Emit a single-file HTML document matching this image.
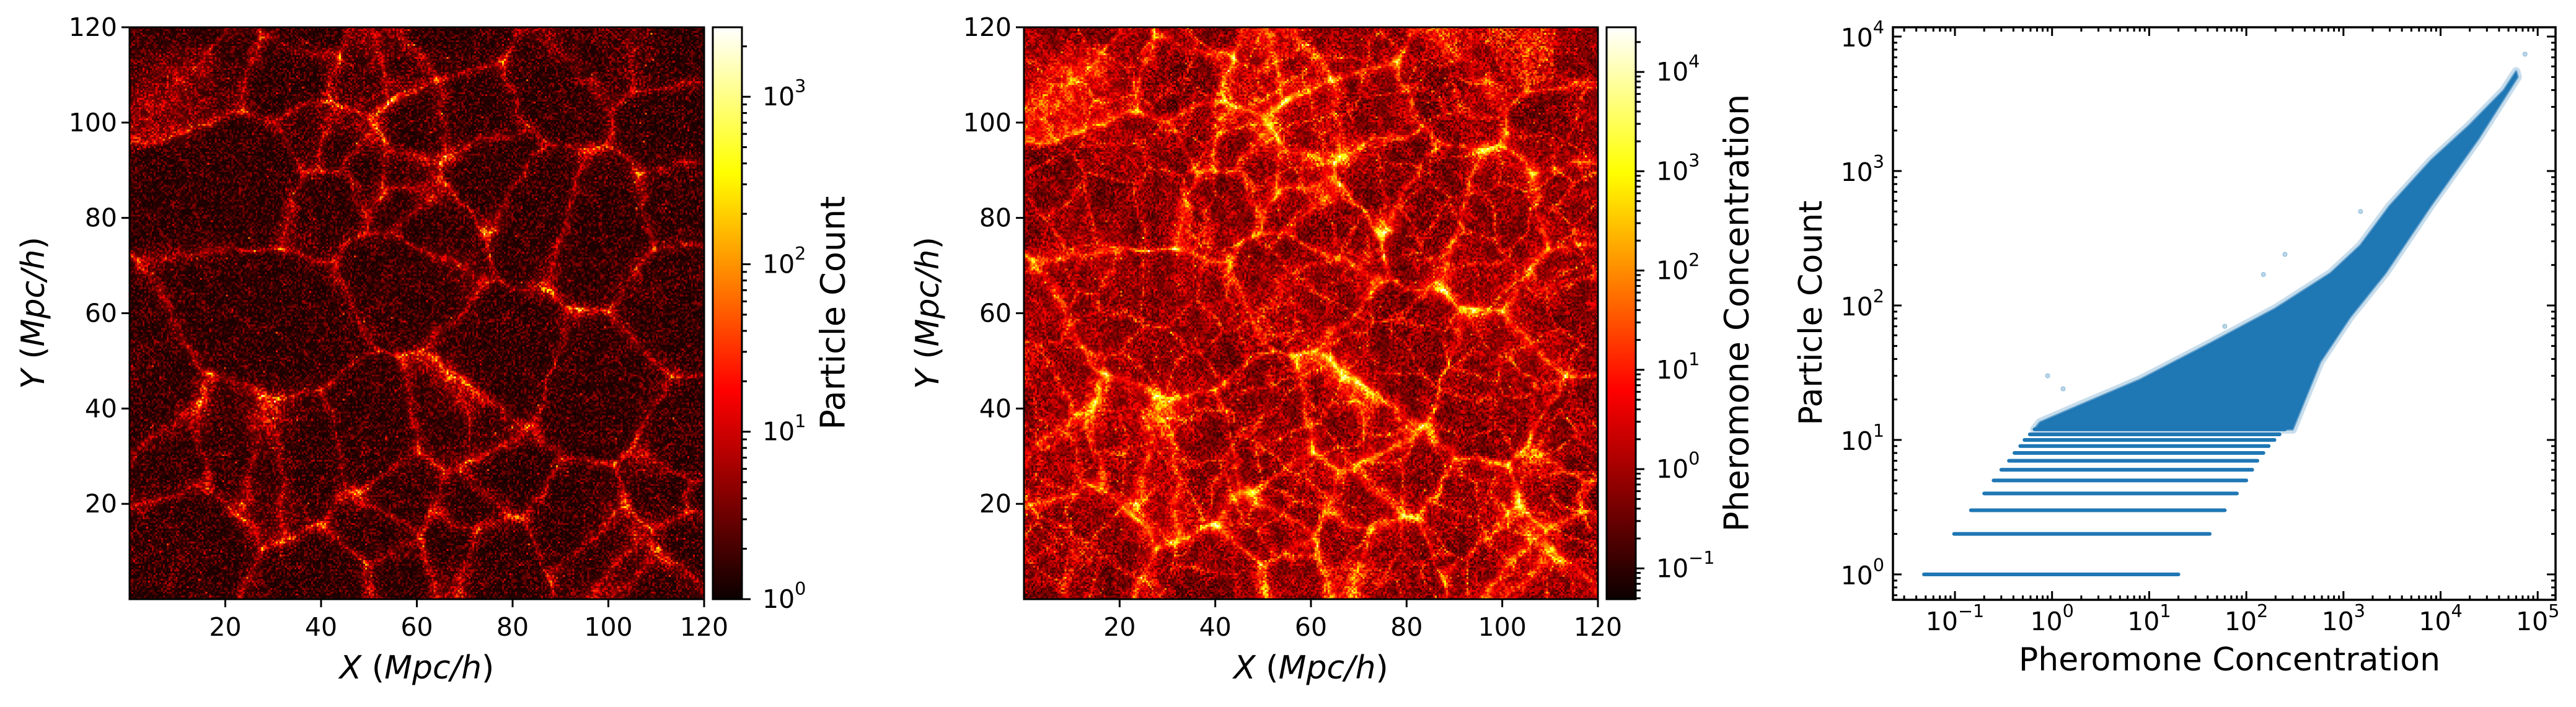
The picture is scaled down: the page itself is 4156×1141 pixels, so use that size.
<!DOCTYPE html>
<html><head><meta charset="utf-8">
<style>
html,body{margin:0;padding:0;background:#fff;}
#root{position:relative;width:4156px;height:1141px;overflow:hidden;background:#fff;font-family:"DejaVu Sans","Liberation Sans",sans-serif;}
canvas.hm{position:absolute;image-rendering:pixelated;}
.cbar{position:absolute;background:linear-gradient(to top,#0b0000 0%,#ff0000 36.5%,#ffff00 74.6%,#ffffff 100%);}
svg{position:absolute;left:0;top:0;}
</style></head>
<body>
<div id="root">
<canvas id="hm1" class="hm" width="310" height="308" style="left:209px;top:44px;width:927px;height:923px"></canvas>
<canvas id="hm2" class="hm" width="310" height="308" style="left:1652px;top:44px;width:926px;height:923px"></canvas>
<div class="cbar" style="left:1150px;top:44px;width:47px;height:923px"></div>
<div class="cbar" style="left:2592px;top:44px;width:47px;height:923px"></div>
<svg id="svg" width="4156" height="1141"></svg>
</div>
<script>
// ---- scatter data (panel 3) ----
const bandCounts=[1,2,3,4,5,6,7,8,9,10,11,12];
const bandMin=[0.048,0.098,0.146,0.2,0.25,0.30,0.36,0.41,0.47,0.52,0.59,0.66];
const bandMax=[20,42,60,80,100,115,130,150,170,195,220,250];
const cloudUpperX=[0.66,0.75,1.9,8,42,200,740,1500,3000,8000,20000,45000,60000];
const cloudUpperY=[12,13.5,18,28,52,95,174,280,550,1200,2200,4000,5500];
const cloudLowerX=[300,575,1170,2700,7900,24500,62000];
const cloudLowerY=[12,38,82,174,550,1740,5000];
const outlierX=[74000,0.9,1.3,20,35,60,150,250,1500];
const outlierY=[7400,30,24,38,45,70,170,240,500];
// colorbar ticks
const cb1Ticks=[0,1,2,3];
const cb2Ticks=[-1,0,1,2,3,4];
const xyTicks=[20,40,60,80,100,120];
const p3XTicks=[-1,0,1,2,3,4,5];
const p3YTicks=[0,1,2,3,4];

const NS="http://www.w3.org/2000/svg";
const svg=document.getElementById('svg');
function el(tag,attrs,parent){const e=document.createElementNS(NS,tag);for(const k in attrs)e.setAttribute(k,attrs[k]);(parent||svg).appendChild(e);return e;}
function line(x1,y1,x2,y2,w){return el('line',{x1,y1,x2,y2,stroke:'#000','stroke-width':w||3});}
function txt(x,y,s,size,anchor,extra){const t=el('text',Object.assign({x,y,'font-size':size,'text-anchor':anchor||'middle','dominant-baseline':'central',fill:'#000'},extra||{}));t.textContent=s;return t;}
function pow10(x,y,e,size,anchor){const t=el('text',{x,y,'font-size':size,'text-anchor':anchor,'dominant-baseline':'central',fill:'#000'});
 const a=document.createElementNS(NS,'tspan');a.textContent='10';t.appendChild(a);
 const b=document.createElementNS(NS,'tspan');b.setAttribute('font-size',size*0.7);b.setAttribute('dy',-size*0.42);b.textContent=(e<0?'\u2212'+(-e):''+e);t.appendChild(b);return t;}

// ---- panels 1 & 2 axes ----
function heatAxes(L,R,T,B,name){
 const sx=v=>L+(R-L)*v/120, sy=v=>B-(B-T)*v/120;
 const g=el('g',{});
 el('rect',{x:L,y:T,width:R-L,height:B-T,fill:'none',stroke:'#000','stroke-width':3},g);
 xyTicks.forEach(v=>{line(sx(v),B,sx(v),B+13,3);txt(sx(v),B+45,String(v),41);
  line(L-13,sy(v),L,sy(v),3);txt(L-20,sy(v),String(v),41,'end');});
 const xl=el('text',{x:(L+R)/2,y:1078,'font-size':52,'text-anchor':'middle','dominant-baseline':'central'});
 xl.innerHTML='<tspan font-style="italic">X</tspan> (<tspan font-style="italic">Mpc/h</tspan>)';
 
 const yl=el('text',{x:0,y:0,'font-size':52,'text-anchor':'middle','dominant-baseline':'central',transform:`translate(${L-155},505) rotate(-90)`});
 yl.innerHTML='<tspan font-style="italic">Y</tspan> (<tspan font-style="italic">Mpc/h</tspan>)';
 
}
heatAxes(209,1136,44,967,'panel1');
heatAxes(1652,2578,44,967,'panel2');

function colorbar(L,R,T,B,lo,hi,ticks,label,labelX,name){
 const sy=v=>B-(B-T)*(Math.log10(v)-lo)/(hi-lo);
 el('rect',{x:L,y:T,width:R-L,height:B-T,fill:'none',stroke:'#000','stroke-width':3});
 for(let d=Math.floor(lo);d<=Math.ceil(hi);d++){for(let m=1;m<10;m++){const v=m*Math.pow(10,d);const lv=Math.log10(v);if(lv<lo-1e-9||lv>hi)continue;
  const y=sy(v);line(R,y,R+(m===1?14:8),y,3);}}
 ticks.forEach(e=>{pow10(R+33,sy(Math.pow(10,e)),e,41,'start');});
 const t=txt(0,0,label,54,'middle',{transform:`translate(${labelX},505) rotate(-90)`});
 
}
colorbar(1150,1197,44,967,0,3.415,cb1Ticks,'Particle Count',1344,'particle-colorbar');
colorbar(2592,2639,44,967,-1.31,4.45,cb2Ticks,'Pheromone Concentration',2802,'pheromone-colorbar');

// ---- panel 3 scatter ----
const P3={L:3054,R:4123,T:44,B:968};
const X0=3154,XD=156.7,Y0=927,YD=217;
const px=v=>X0+(Math.log10(v)+1)*XD;
const py=v=>Y0-Math.log10(v)*YD;
const sg=el('g',{});


let poly=[];
for(let i=0;i<cloudUpperX.length;i++)poly.push(px(cloudUpperX[i])+','+py(cloudUpperY[i]));
for(let i=cloudLowerX.length-1;i>=0;i--)poly.push(px(cloudLowerX[i])+','+py(cloudLowerY[i]));
poly.push(px(bandMax[bandMax.length-1])+','+py(12));
const cf=el('polygon',{points:poly.join(' '),fill:'none',stroke:'#1f77b4','stroke-width':14,'stroke-opacity':0.25,'stroke-linejoin':'round'},sg);


const cl=el('polygon',{points:poly.join(' '),fill:'#1f77b4',stroke:'#1f77b4','stroke-width':4,'stroke-opacity':0.6,'stroke-linejoin':'round'},sg);


bandCounts.forEach((c,i)=>{
 const b=el('line',{x1:px(bandMin[i]),y1:py(c),x2:px(bandMax[i]),y2:py(c),stroke:'#1f77b4','stroke-width':6,'stroke-linecap':'round'},sg);
 
 
});
outlierX.forEach((x,i)=>{
 const o=el('circle',{cx:px(x),cy:py(outlierY[i]),r:3.5,fill:'#1f77b4','fill-opacity':0.3,stroke:'#1f77b4','stroke-opacity':0.4},sg);
 
 
});
// frame & ticks
el('rect',{x:P3.L,y:P3.T,width:P3.R-P3.L,height:P3.B-P3.T,fill:'none',stroke:'#000','stroke-width':3.5});
for(let d=-2;d<=5;d++)for(let m=1;m<10;m++){const v=m*Math.pow(10,d);const x=px(v);if(x<P3.L+2||x>P3.R-2)continue;const L=m===1?14:7;
 line(x,P3.B,x,P3.B-L,3);line(x,P3.T,x,P3.T+L,3);}
for(let d=-1;d<=4;d++)for(let m=1;m<10;m++){const v=m*Math.pow(10,d);const y=py(v);if(y<P3.T+2||y>P3.B-2)continue;const L=m===1?14:7;
 line(P3.L,y,P3.L+L,y,3);line(P3.R,y,P3.R-L,y,3);}
p3XTicks.forEach(e=>pow10(px(Math.pow(10,e)),1003,e,41,'middle'));
p3YTicks.forEach(e=>pow10(3040,py(Math.pow(10,e))+2,e,41,'end'));
const p3x=txt(3597,1065,'Pheromone Concentration',52);

const p3y=txt(0,0,'Particle Count',52,'middle',{transform:'translate(2922,505) rotate(-90)'});


// ---- procedural cosmic-web texture for heatmaps ----
function rng(s){return function(){s|=0;s=s+0x6D2B79F5|0;let t=Math.imul(s^s>>>15,1|s);t=t+Math.imul(t^t>>>7,61|t)^t;return((t^t>>>14)>>>0)/4294967296;}}
function hot(t){t=Math.max(0,Math.min(1,t));const r=Math.min(1,0.0416+t/0.365*(1-0.0416));const g=Math.max(0,Math.min(1,(t-0.365)/0.381));const b=Math.max(0,Math.min(1,(t-0.746)/0.254));return[r*255,g*255,b*255];}
const W=310,H=308;
const R=rng(12345);
const seedsA=[],seedsB=[];
for(let i=0;i<55;i++)seedsA.push([R()*W,R()*H]);
for(let i=0;i<200;i++)seedsB.push([R()*W,R()*H]);
const grid=[];for(let i=0;i<100;i++)grid.push(R());
function vn(x,y,s){const gx=x/s,gy=y/s;const ix=Math.floor(gx),iy=Math.floor(gy);const fx=gx-ix,fy=gy-iy;
 const g=(a,b)=>grid[((a*7+b*13)%100+100)%100];const u=fx*fx*(3-2*fx),v=fy*fy*(3-2*fy);
 return (g(ix,iy)*(1-u)+g(ix+1,iy)*u)*(1-v)+(g(ix,iy+1)*(1-u)+g(ix+1,iy+1)*u)*v;}
function vor(seeds,x,y){let d1=1e9,d2=1e9,d3=1e9;for(const s of seeds){const dx=s[0]-x,dy=s[1]-y;const d=dx*dx+dy*dy;
 if(d<d1){d3=d2;d2=d1;d1=d;}else if(d<d2){d3=d2;d2=d;}else if(d<d3)d3=d;}
 return[Math.sqrt(d1),Math.sqrt(d2),Math.sqrt(d3)];}
const ctx1=document.getElementById('hm1').getContext('2d');
const ctx2=document.getElementById('hm2').getContext('2d');
const im1=ctx1.createImageData(W,H),im2=ctx2.createImageData(W,H);
const R2=rng(999);
for(let y=0;y<H;y++)for(let x=0;x<W;x++){
 const wx=x+6*(vn(x,y,9)-0.5), wy=y+6*(vn(y+50,x,11)-0.5);
 const a=vor(seedsA,wx,wy),b=vor(seedsB,wx,wy);
 const n=vn(x,y,22), n2=vn(x*1.7,y*1.7,6);
 const filA=Math.exp(-(a[1]-a[0])/(1.5+2.5*n));
 const nodeA=Math.exp(-(a[2]-a[0])/3);
 const filB=Math.exp(-(b[1]-b[0])/1.3);
 const sp=R2(),sp2=R2();
 let t1=0.02+0.18*sp*sp*sp+0.24*filA*(0.3+0.9*n2)*(0.6+0.6*sp)+0.10*filB*sp+0.4*nodeA*(0.3+n)*(0.5+sp);
 if(sp2<0.003)t1+=0.3;
 let t2=0.04+0.28*sp*(0.4+0.8*n2)+0.08*n+0.26*filA*(0.5+0.8*n2)+0.2*filB*(0.5+sp)+0.4*nodeA*(0.4+n);
 if(sp2<0.005)t2+=0.25;
 const c1=hot(t1),c2=hot(t2);const k=(y*W+x)*4;
 im1.data[k]=c1[0];im1.data[k+1]=c1[1];im1.data[k+2]=c1[2];im1.data[k+3]=255;
 im2.data[k]=c2[0];im2.data[k+1]=c2[1];im2.data[k+2]=c2[2];im2.data[k+3]=255;
}
ctx1.putImageData(im1,0,0);ctx2.putImageData(im2,0,0);
</script>
</body></html>
